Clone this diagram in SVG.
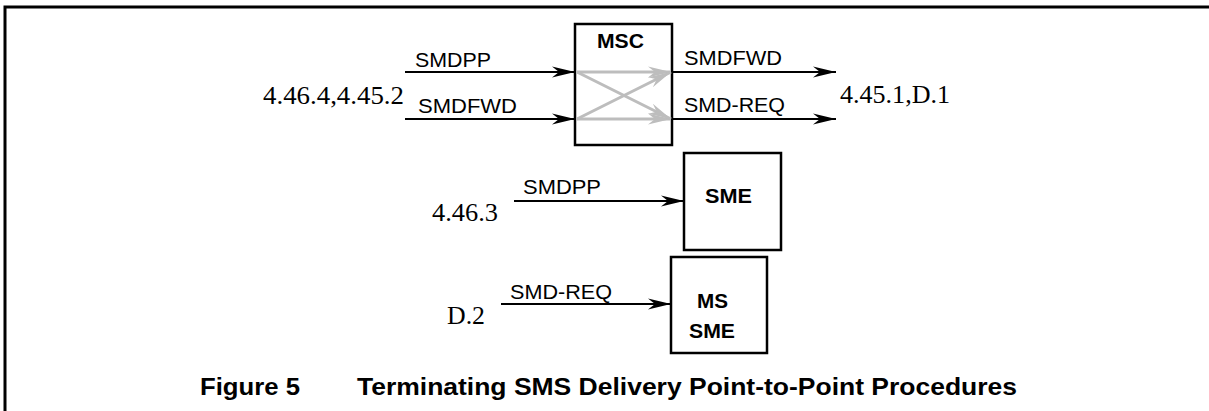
<svg xmlns="http://www.w3.org/2000/svg" width="1209" height="411" viewBox="0 0 1209 411">
<style>
.box{fill:#fff;stroke:#000;stroke-width:2.5}
.ln{stroke:#000;stroke-width:2;fill:none}
.gl{stroke:#bdbdbd;stroke-width:3;fill:none}
.lbl{font-family:"Liberation Sans",Arial,sans-serif;font-size:21px;fill:#000}
.ref{font-family:"Liberation Serif","Times New Roman",serif;font-size:26px;fill:#000}
.nm{font-family:"Liberation Sans",Arial,sans-serif;font-size:21px;font-weight:bold;fill:#000}
.cap{font-family:"Liberation Sans",Arial,sans-serif;font-size:24px;font-weight:bold;fill:#000}
</style>
<defs>
<marker id="ah" viewBox="-23 -6 23 12" refX="0" refY="0" markerWidth="23" markerHeight="12" markerUnits="userSpaceOnUse" orient="auto">
<path d="M0,0 L-23,-5.5 L-16,0 L-23,5.5 Z" fill="#000"/>
</marker>
<marker id="ahg" viewBox="-23 -6 23 12" refX="0" refY="0" markerWidth="23" markerHeight="12" markerUnits="userSpaceOnUse" orient="auto">
<path d="M0,0 L-23,-5.5 L-16,0 L-23,5.5 Z" fill="#bdbdbd"/>
</marker>
</defs>
<rect width="1209" height="411" fill="#fff"/>
<g id="frame">
<path d="M5,411 L5,7 L1209,7" fill="none" stroke="#000" stroke-width="3"/>
</g>
<g id="msc">
<rect class="box" x="575" y="24" width="97" height="121"/>
<text class="nm" x="597" y="48" textLength="47" lengthAdjust="spacingAndGlyphs">MSC</text>
</g>
<g id="sme">
<rect class="box" x="684" y="153" width="97" height="97"/>
<text class="nm" x="705" y="203" textLength="47" lengthAdjust="spacingAndGlyphs">SME</text>
</g>
<g id="mssme">
<rect class="box" x="671" y="257" width="96" height="96"/>
<text class="nm" x="697" y="308" textLength="31" lengthAdjust="spacingAndGlyphs">MS</text>
<text class="nm" x="689" y="338" textLength="46" lengthAdjust="spacingAndGlyphs">SME</text>
</g>
<g id="connectors">
<line class="gl" x1="577" y1="72" x2="671" y2="72" marker-end="url(#ahg)"/>
<line class="gl" x1="577" y1="119" x2="671" y2="119" marker-end="url(#ahg)"/>
<line class="gl" x1="577" y1="72" x2="671" y2="119" marker-end="url(#ahg)"/>
<line class="gl" x1="577" y1="119" x2="671" y2="72" marker-end="url(#ahg)"/>
<line class="ln" x1="405" y1="72" x2="575" y2="72" marker-end="url(#ah)"/>
<line class="ln" x1="405" y1="119" x2="575" y2="119" marker-end="url(#ah)"/>
<line class="ln" x1="672" y1="72" x2="836" y2="72" marker-end="url(#ah)"/>
<line class="ln" x1="672" y1="119" x2="836" y2="119" marker-end="url(#ah)"/>
<line class="ln" x1="514" y1="201" x2="684" y2="201" marker-end="url(#ah)"/>
<line class="ln" x1="501" y1="304" x2="671" y2="304" marker-end="url(#ah)"/>
<text class="lbl" x="415" y="67" textLength="76" lengthAdjust="spacingAndGlyphs">SMDPP</text>
<text class="lbl" x="418" y="113" textLength="99" lengthAdjust="spacingAndGlyphs">SMDFWD</text>
<text class="lbl" x="684" y="65" textLength="98" lengthAdjust="spacingAndGlyphs">SMDFWD</text>
<text class="lbl" x="684" y="112" textLength="101" lengthAdjust="spacingAndGlyphs">SMD-REQ</text>
<text class="lbl" x="523" y="194" textLength="78" lengthAdjust="spacingAndGlyphs">SMDPP</text>
<text class="lbl" x="510" y="299" textLength="102" lengthAdjust="spacingAndGlyphs">SMD-REQ</text>
</g>
<g id="refs">
<text class="ref" x="263" y="104" textLength="141" lengthAdjust="spacingAndGlyphs">4.46.4,4.45.2</text>
<text class="ref" x="840" y="103" textLength="110" lengthAdjust="spacingAndGlyphs">4.45.1,D.1</text>
<text class="ref" x="432" y="221" textLength="66" lengthAdjust="spacingAndGlyphs">4.46.3</text>
<text class="ref" x="447" y="324" textLength="38" lengthAdjust="spacingAndGlyphs">D.2</text>
</g>
<g id="caption">
<text class="cap" x="200" y="395" textLength="100" lengthAdjust="spacingAndGlyphs">Figure 5</text>
<text class="cap" x="357" y="395" textLength="660" lengthAdjust="spacingAndGlyphs">Terminating SMS Delivery Point-to-Point Procedures</text>
</g>
</svg>
